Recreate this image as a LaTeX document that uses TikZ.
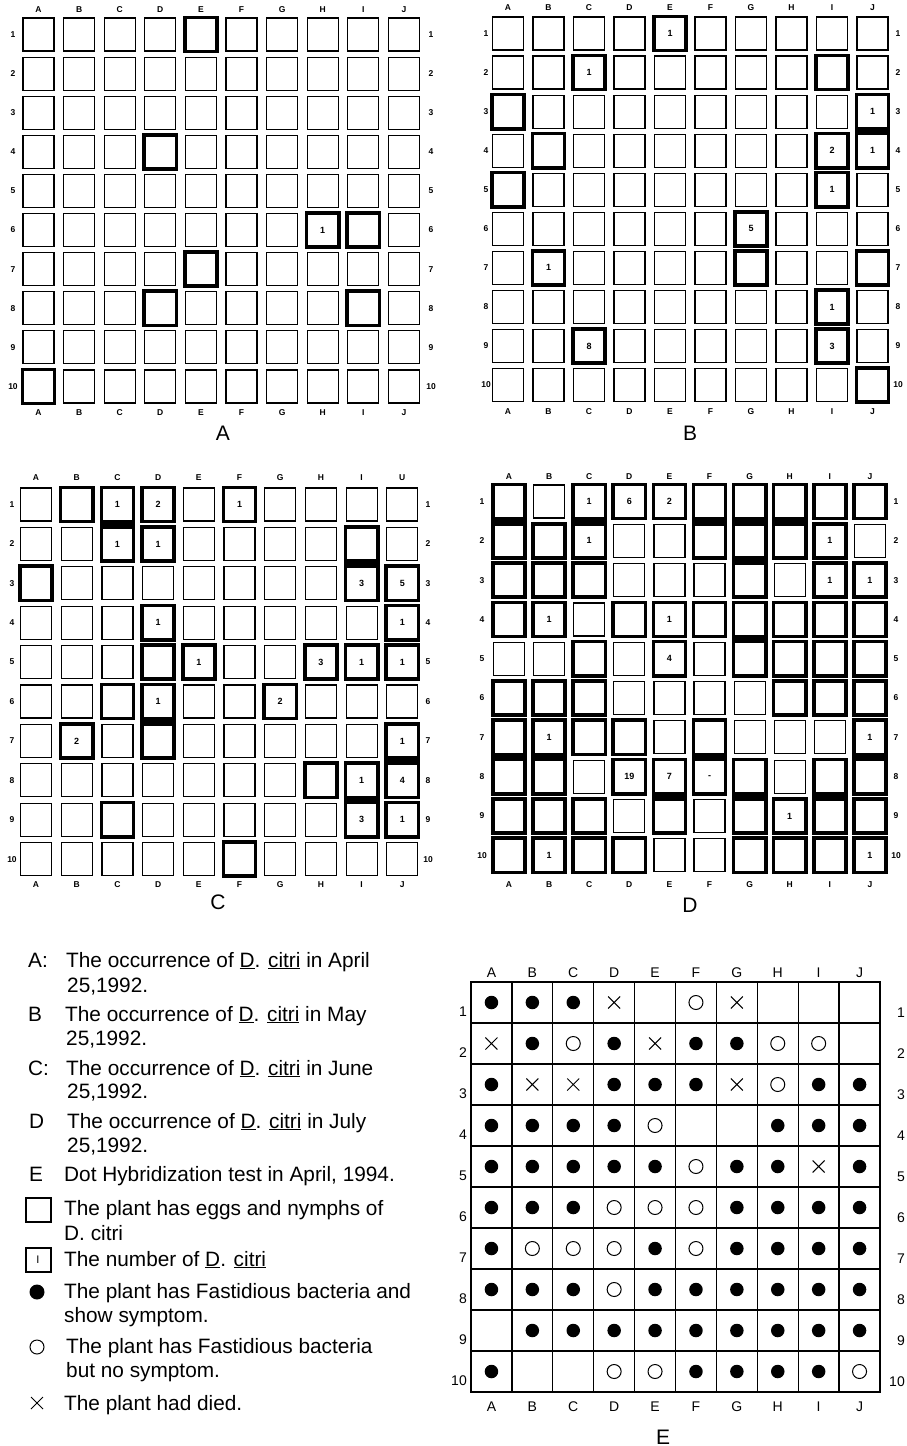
\documentclass[tikz,border=0pt]{standalone}
\usepackage{fontspec}
\setmainfont{Liberation Sans}
\usetikzlibrary{shapes.misc}
\newcommand\dcit{\underline{D}. \underline{citri}}
% #1 prefix, #2 x of col A centre, #3 col pitch, #4 y of row 1 centre, #5 row pitch,
% #6 top-letter y, #7 bottom-letter y, #8 left number x, #9 right number x
\newcommand\mkpanel[9]{%
  \foreach \i in {1,...,10}{%
    \foreach \r in {1,...,10}{%
      \node[cell] (#1-\i-\r) at ({#2+#3*(\i-1)},{#4+#5*(\r-1)}) {};
    }%
  }%
  \foreach \L [count=\i] in \toplist{%
    \node[lbl] (#1-top-\i) at ({#2+#3*(\i-1)},#6) {\L};
  }%
  \foreach \L [count=\i] in {A,B,C,D,E,F,G,H,I,J}{%
    \node[lbl] (#1-bot-\i) at ({#2+#3*(\i-1)},#7) {\L};
  }%
  \foreach \r in {1,...,10}{%
    \node[lbl] (#1-l-\r) at (#8,{#4+#5*(\r-1)}) {\r};
    \node[lbl] (#1-r-\r) at (#9,{#4+#5*(\r-1)}) {\r};
  }%
}
\newcommand\heavycells[2]{\foreach \i/\r in {#2}{\draw[heavy] (#1-\i-\r.north west) rectangle (#1-\i-\r.south east);}}
\newcommand\barcells[2]{\foreach \i/\r in {#2}{\pgfmathtruncatemacro\rr{\r+1}\filldraw[heavy] (#1-\i-\r.south west) rectangle (#1-\i-\rr.north east);}}
\newcommand\numcells[2]{\foreach \i/\r/\t in {#2}{\node[num] (#1-n-\i-\r) at (#1-\i-\r) {\t};}}
\begin{document}
\begin{tikzpicture}[x=1pt,y=-1pt,
  cell/.style={draw,line width=1.2pt,minimum width=31pt,minimum height=33pt,inner sep=0pt},
  heavy/.style={line width=3.6pt},
  num/.style={font=\fontsize{9}{9}\selectfont\bfseries,inner sep=0pt},
  lbl/.style={font=\fontsize{8.5}{9}\selectfont\bfseries,inner sep=0pt},
  plabel/.style={font=\fontsize{21}{21}\selectfont,inner sep=0pt},
  lg/.style={font=\fontsize{20.8}{24}\selectfont,anchor=base west,inner sep=0pt},
  elbl/.style={font=\fontsize{14}{14}\selectfont,inner sep=0pt},
  ecell/.style={draw,line width=1.3pt,minimum width=40.9pt,minimum height=41pt,inner sep=0pt},
  symf/.style={circle,fill=black,minimum size=13.5pt,inner sep=0pt},
  symo/.style={circle,draw,line width=1pt,minimum size=14pt,inner sep=0pt},
  symx/.style={cross out,draw,line width=1pt,minimum size=11pt,inner sep=0pt},
  symn/.style={inner sep=0pt,minimum size=0pt}]
\useasboundingbox (0,0) rectangle (907,1446);
\fill[white] (0,0) rectangle (907,1446);

% ---------------- Panel A ----------------
\def\toplist{A,B,C,D,E,F,G,H,I,J}
\mkpanel{a}{38.5}{40.6}{34.5}{39.1}{10}{413}{13}{431}
\heavycells{a}{5/1,4/4,8/6,9/6,5/7,4/8,9/8,1/10}
\numcells{a}{8/6/1}
\node[plabel] (labA) at (223,433) {A};

% ---------------- Panel B ----------------
\mkpanel{b}{508}{40.5}{33.5}{39.06}{8}{412}{486}{898}
\heavycells{b}{5/1,3/2,9/2,1/3,10/3,2/4,9/4,10/4,1/5,9/5,7/6,2/7,7/7,10/7,9/8,9/9,3/9,10/10}
\barcells{b}{10/3}
\numcells{b}{5/1/1,3/2/1,10/3/1,9/4/2,10/4/1,9/5/1,7/6/5,2/7/1,9/8/1,3/9/8,9/9/3}
\node[plabel] (labB) at (690,433) {B};

% ---------------- Panel C ----------------
\def\toplist{A,B,C,D,E,F,G,H,I,U}
\mkpanel{c}{36}{40.7}{504.5}{39.4}{478}{885}{12}{428}
\heavycells{c}{2/1,3/1,4/1,6/1,3/2,4/2,9/2,1/3,9/3,10/3,4/4,10/4,4/5,5/5,8/5,9/5,10/5,3/6,4/6,7/6,2/7,4/7,10/7,8/8,9/8,10/8,3/9,9/9,10/9,6/10}
\barcells{c}{3/1,9/2,4/6,10/7,9/8}
\numcells{c}{3/1/1,4/1/2,6/1/1,3/2/1,4/2/1,9/3/3,10/3/5,4/4/1,10/4/1,5/5/1,8/5/3,9/5/1,10/5/1,4/6/1,7/6/2,2/7/2,10/7/1,9/8/1,10/8/4,9/9/3,10/9/1}
\node[plabel] (labC) at (218,902) {C};

% ---------------- Panel D ----------------
\def\toplist{A,B,C,D,E,F,G,H,I,J}
\mkpanel{d}{509}{40.1}{501.5}{39.3}{477}{885}{482}{896}
\heavycells{d}{1/1,3/1,4/1,5/1,6/1,7/1,8/1,9/1,10/1,
 1/2,2/2,3/2,6/2,7/2,8/2,9/2,
 1/3,2/3,3/3,7/3,9/3,10/3,
 1/4,2/4,4/4,5/4,6/4,7/4,8/4,9/4,10/4,
 3/5,5/5,7/5,8/5,9/5,10/5,
 1/6,2/6,3/6,8/6,9/6,10/6,
 1/7,2/7,3/7,4/7,6/7,10/7,
 1/8,2/8,4/8,5/8,6/8,7/8,9/8,10/8,
 1/9,2/9,3/9,5/9,7/9,8/9,9/9,10/9,
 1/10,2/10,3/10,4/10,7/10,8/10,9/10,10/10}
\barcells{d}{1/1,3/1,6/1,7/1,7/2,8/1,7/4,1/7,2/7,6/7,10/7,5/8,7/8,9/8}
\numcells{d}{3/1/1,4/1/6,5/1/2,3/2/1,9/2/1,9/3/1,10/3/1,2/4/1,5/4/1,5/5/4,2/7/1,10/7/1,4/8/19,5/8/7,6/8/-,8/9/1,2/10/1,10/10/1}
\node[plabel] (labD) at (690,905) {D};

% ---------------- Legend ----------------
\node[lg] (kA) at (28,967) {A:};
\node[lg] (tA1) at (66,967) {The occurrence of \dcit{} in April};
\node[lg] (tA2) at (67,992) {25,1992.};
\node[lg] (kB) at (28,1021) {B};
\node[lg] (tB1) at (65,1021) {The occurrence of \dcit{} in May};
\node[lg] (tB2) at (66,1045) {25,1992.};
\node[lg] (kC) at (28,1075) {C:};
\node[lg] (tC1) at (66,1075) {The occurrence of \dcit{} in June};
\node[lg] (tC2) at (67,1098) {25,1992.};
\node[lg] (kD) at (29,1128) {D};
\node[lg] (tD1) at (67,1128) {The occurrence of \dcit{} in July};
\node[lg] (tD2) at (67,1152) {25,1992.};
\node[lg] (kE) at (29,1181) {E};
\node[lg] (tE1) at (64,1181) {Dot Hybridization test in April, 1994.};
\node[draw,line width=2pt,minimum width=25pt,minimum height=24pt,inner sep=0pt] (ksq) at (38,1209.5) {};
\node[lg] (tS1) at (64,1215) {The plant has eggs and nymphs of};
\node[lg] (tS2) at (64,1240) {D. citri};
\node[draw,line width=2pt,minimum width=25pt,minimum height=24pt,inner sep=0pt,font=\fontsize{11}{11}\selectfont] (knum) at (38,1259.5) {I};
\node[lg] (tN1) at (64,1266) {The number of \dcit};
\node[symf,minimum size=15pt] (kf) at (37,1292) {};
\node[lg] (tF1) at (64,1298) {The plant has Fastidious bacteria and};
\node[lg] (tF2) at (64,1322) {show symptom.};
\node[symo,minimum size=14pt] (ko) at (37,1347) {};
\node[lg] (tO1) at (66,1353) {The plant has Fastidious bacteria};
\node[lg] (tO2) at (66,1377) {but no symptom.};
\node[symx,minimum size=11pt] (kx) at (37,1403) {};
\node[lg] (tX1) at (64,1410) {The plant had died.};

% ---------------- Panel E ----------------
\foreach \i in {1,...,10}{
  \foreach \r in {1,...,10}{
    \node[ecell] (e-\i-\r) at ({450.55+40.9*\i},{961.5+41*\r}) {};
  }
}
\foreach \L [count=\i] in {A,B,C,D,E,F,G,H,I,J}{
  \node[elbl] (e-top-\i) at ({450.55+40.9*\i},973) {\L};
}
\foreach \L [count=\i] in {A,B,C,D,E,F,G,H,I,J}{
  \node[elbl] (e-bot-\i) at ({450.55+40.9*\i},1407) {\L};
}
\foreach \r in {1,...,10}{
  \node[elbl,anchor=east] (e-l-\r) at (467,{971+41*\r}) {\r};
  \node[elbl,anchor=east] (e-r-\r) at (905,{972+41*\r}) {\r};
}
\foreach \r/\row in {1/{f,f,f,x,n,o,x,n,n,n},
                     2/{x,f,o,f,x,f,f,o,o,n},
                     3/{f,x,x,f,f,f,x,o,f,f},
                     4/{f,f,f,f,o,n,n,f,f,f},
                     5/{f,f,f,f,f,o,f,f,x,f},
                     6/{f,f,f,o,o,o,f,f,f,f},
                     7/{f,o,o,o,f,o,f,f,f,f},
                     8/{f,f,f,o,f,f,f,f,f,f},
                     9/{n,f,f,f,f,f,f,f,f,f},
                     10/{f,n,n,o,o,f,f,f,f,o}}{
  \foreach \s [count=\i] in \row {
    \node[sym\s] (e-s-\i-\r) at (e-\i-\r) {};
  }
}
\node[plabel] (labE) at (663,1437) {E};
\end{tikzpicture}
\end{document}
